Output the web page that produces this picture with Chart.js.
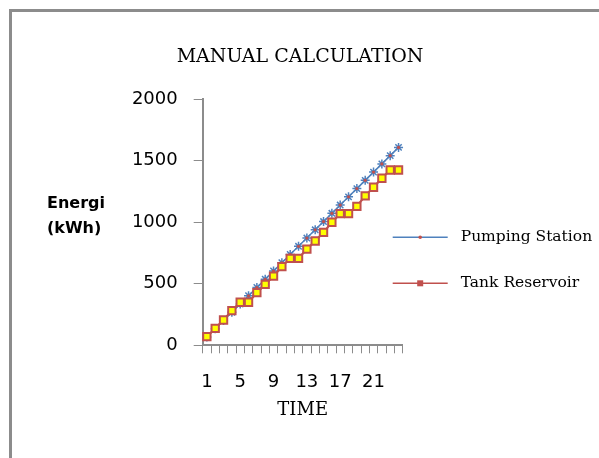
<!DOCTYPE html>
<html><head><meta charset="utf-8">
<script src="https://cdn.jsdelivr.net/npm/chart.js@4"></script>
<style>
html,body{margin:0;padding:0;background:#fff;overflow:hidden;width:599px;height:458px}
#frame{position:absolute;left:9px;top:9px;width:700px;height:600px;border:3px solid #8c8c8c;box-sizing:border-box}
#wrap{position:absolute;left:0;top:0;width:599px;height:458px}
</style></head><body>
<div id="frame"></div>
<div id="wrap"><canvas id="c" width="599" height="458"></canvas></div>
<script>
const chartTitle = 'MANUAL CALCULATION';
const xTitle = 'TIME';
const yTitleLines = ['Energi', '(kWh)'];
const hours = ['1','2','3','4','5','6','7','8','9','10','11','12','13','14','15','16','17','18','19','20','21','22','23','24'];
const pumpingStation = [67,134,201,268,336,403,470,537,604,671,738,805,872,939,1006,1073,1140,1207,1274,1341,1408,1475,1542,1609];
const tankReservoir = [70,138,206,282,350,350,428,495,562,640,707,707,782,848,918,1000,1070,1070,1130,1215,1285,1358,1425,1425];
const yMin = 0, yMax = 2000, yStep = 500;
const xLabelStep = 4;
const seriesNames = ['Pumping Station', 'Tank Reservoir'];

const BLUE = '#4f81bd', RED = '#c0504d';

const extras = {
  id: 'extras',
  afterDatasetDraw(chart, args) {
    if (args.index !== 0) return;
    const ctx = chart.ctx;
    ctx.save();
    ctx.fillStyle = RED;
    args.meta.data.forEach(p => { ctx.beginPath(); ctx.arc(p.x, p.y, 1.6, 0, Math.PI * 2); ctx.fill(); });
    ctx.restore();
  },
  afterDraw(chart) {
    const { ctx, chartArea } = chart;
    ctx.save();
    ctx.fillStyle = '#000';
    // chart title
    ctx.font = '19px "DejaVu Serif"';
    ctx.textAlign = 'center';
    ctx.textBaseline = 'middle';
    ctx.fillText(chartTitle, 300, 57);
    // y axis title (horizontal, two lines)
    ctx.font = 'bold 16px "DejaVu Sans"';
    ctx.textAlign = 'left';
    ctx.textBaseline = 'alphabetic';
    ctx.fillText(yTitleLines[0], 47, 208);
    ctx.fillText(yTitleLines[1], 47, 233);
    // legend
    const rows = [chartArea.top + 138, chartArea.top + 184];
    const x0 = chartArea.right - 10, x1 = chartArea.right + 45;
    chart.data.datasets.forEach((ds, i) => {
      const y = rows[i];
      ctx.strokeStyle = ds.borderColor;
      ctx.lineWidth = 1.5;
      ctx.beginPath(); ctx.moveTo(x0, y); ctx.lineTo(x1, y); ctx.stroke();
      const cx = (x0 + x1) / 2;
      ctx.fillStyle = RED;
      if (i === 0) { ctx.beginPath(); ctx.arc(cx, y, 1.8, 0, Math.PI * 2); ctx.fill(); }
      else { ctx.fillRect(cx - 3, y - 3, 6, 6); }
      ctx.fillStyle = '#000';
      ctx.font = '15.5px "DejaVu Serif"';
      ctx.textBaseline = 'middle';
      ctx.fillText(ds.label, x1 + 13, y);
    });
    ctx.restore();
  }
};

new Chart(document.getElementById('c'), {
  type: 'line',
  data: {
    labels: hours,
    datasets: [
      { label: seriesNames[0], data: pumpingStation, order: 1, borderColor: BLUE, backgroundColor: BLUE, borderWidth: 1.5,
        pointStyle: 'star', pointRadius: 4.5, pointBorderWidth: 1.5, pointBorderColor: BLUE, pointBackgroundColor: BLUE, tension: 0 },
      { label: seriesNames[1], data: tankReservoir, order: 0, borderColor: RED, backgroundColor: '#ffff00', borderWidth: 2.2,
        pointStyle: 'rect', pointRadius: 5.2, pointBorderWidth: 2, pointBorderColor: RED, pointBackgroundColor: '#ffff00', tension: 0 }
    ]
  },
  options: {
    responsive: false, animation: false, devicePixelRatio: 1,
    layout: { padding: { left: 0, right: 196.3, top: 99.3, bottom: 0 } },
    plugins: {
      legend: { display: false },
      tooltip: { enabled: false },
      title: { display: false }
    },
    scales: {
      x: {
        offset: true,
        grid: { offset: true, drawOnChartArea: false, drawTicks: true, tickLength: 8, color: '#8c8c8c', lineWidth: 1 },
        border: { color: '#8c8c8c', width: 2 },
        ticks: { autoSkip: false, maxRotation: 0, minRotation: 0, padding: 18, color: '#000',
          font: { family: 'DejaVu Sans', size: 18 },
          callback: (v, i) => (i % xLabelStep === 0 ? hours[i] : '') },
        title: { display: true, text: xTitle, color: '#000', font: { family: 'DejaVu Serif', size: 18 }, padding: { top: 0, bottom: 37 } },
        afterFit: s => { s.height = 112.7; }
      },
      y: {
        min: yMin, max: yMax,
        grid: { drawOnChartArea: false, drawTicks: true, tickLength: 9, color: '#8c8c8c', lineWidth: 1 },
        border: { color: '#8c8c8c', width: 2 },
        ticks: { stepSize: yStep, padding: 16, color: '#000', font: { family: 'DejaVu Sans', size: 18 },
          callback: v => String(v) },
        afterFit: s => { s.width = 202.7; }
      }
    }
  },
  plugins: [extras]
});
</script>
</body></html>
